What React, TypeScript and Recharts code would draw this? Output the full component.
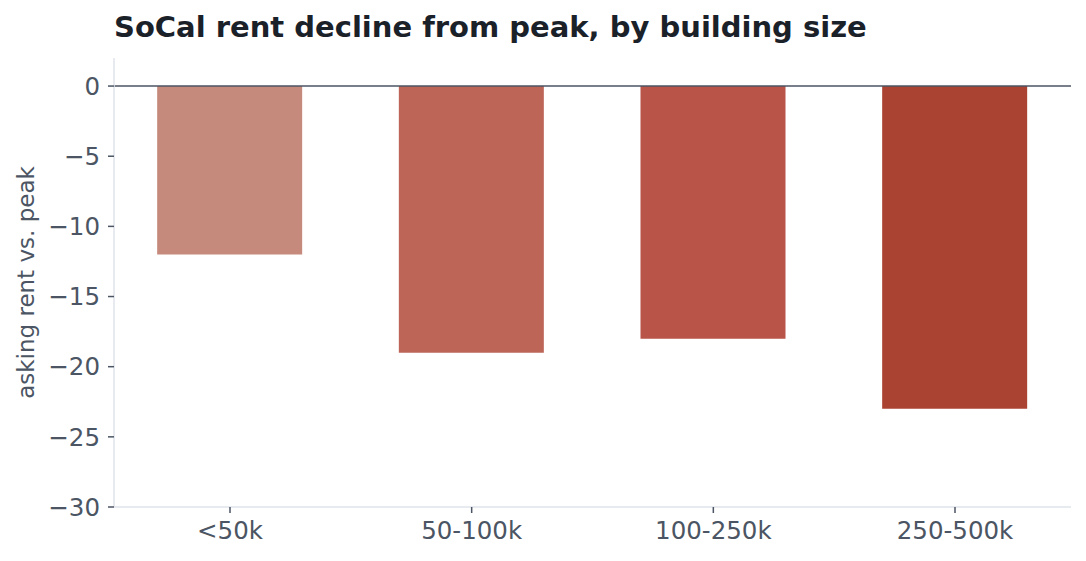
import React from 'react'
import { BarChart, Bar, XAxis, YAxis, Cell, ReferenceLine, Label } from 'recharts'

const categories = ['<50k', '50-100k', '100-250k', '250-500k']
const declines = [-12, -19, -18, -23]
const barColors = ['#c68a7d', '#bd6657', '#b85548', '#ab4333']
const yTicks = [0, -5, -10, -15, -20, -25, -30]

const data = categories.map((name, idx) => ({ idx, name, value: declines[idx] }))

const font = 'DejaVu Sans, sans-serif'
const textColor = '#4b5563'

export default function App() {
  return (
    <div style={{ position: 'relative', width: 1086, height: 561, background: '#fff' }}>
      <style>{`body { margin: 0; }`}</style>
      <svg width={1086} height={50} style={{ position: 'absolute', left: 0, top: 0 }}>
        <text x={114} y={37} fontFamily={font} fontWeight="bold" fontSize={29} fill="#1b2129">
          SoCal rent decline from peak, by building size
        </text>
      </svg>
      <BarChart width={1086} height={561} data={data} margin={{ top: 58, right: 15, bottom: 0, left: 0 }}>
        <XAxis
          type="number"
          dataKey="idx"
          domain={[-0.48, 3.48]}
          ticks={[0, 1, 2, 3]}
          tickFormatter={(i: number) => categories[i]}
          axisLine={{ stroke: '#dfe3e8', strokeWidth: 1.5 }}
          tickLine={{ stroke: textColor, strokeWidth: 1.5 }}
          tickSize={6}
          tickMargin={9}
          tick={{ fill: textColor, fontSize: 24.5, fontFamily: font }}
          height={54}
        />
        <YAxis
          type="number"
          domain={[-30, 2]}
          ticks={yTicks}
          tickFormatter={(v: number) => (v < 0 ? '\u2212' + Math.abs(v) : String(v))}
          axisLine={{ stroke: '#dfe3e8', strokeWidth: 1.5 }}
          tickLine={{ stroke: textColor, strokeWidth: 1.5 }}
          tickSize={6}
          tickMargin={8}
          tick={{ fill: textColor, fontSize: 24.5, fontFamily: font }}
          width={114}
        >
          <Label
            value="asking rent vs. peak"
            angle={-90}
            position="insideLeft"
            offset={26}
            style={{ textAnchor: 'middle', fill: textColor, fontSize: 23, fontFamily: font }}
          />
        </YAxis>
        <ReferenceLine y={0} stroke="#4b5563" strokeWidth={1.5} />
        <Bar dataKey="value" barSize={145} isAnimationActive={false}>
          {data.map((d, i) => (
            <Cell key={d.name} fill={barColors[i]} />
          ))}
        </Bar>
      </BarChart>
    </div>
  )
}
